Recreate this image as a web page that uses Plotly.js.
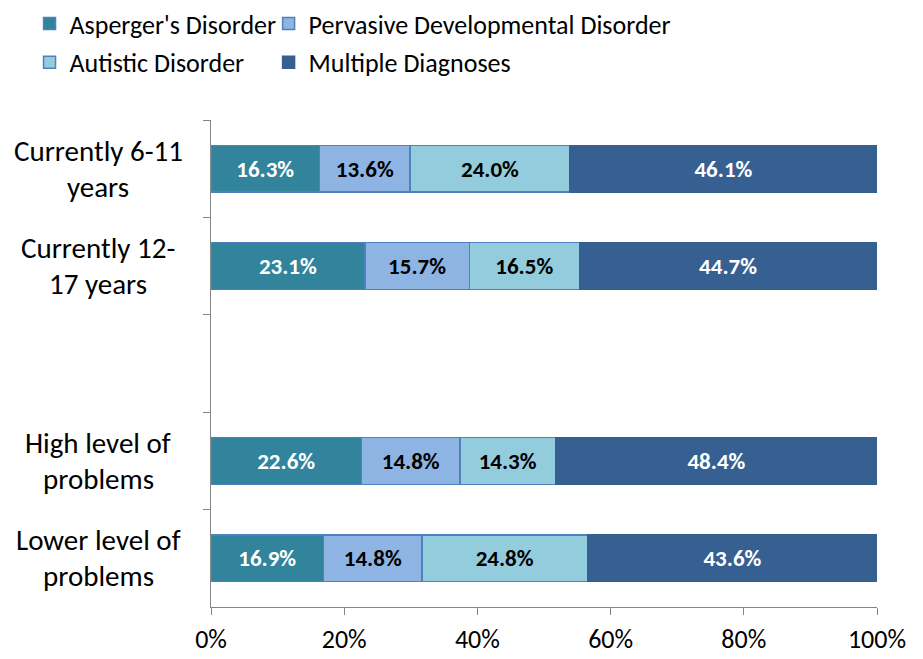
<!DOCTYPE html>
<html>
<head>
<meta charset="utf-8">
<script src="https://cdn.plot.ly/plotly-3.0.1.min.js"></script>
<style>html,body{margin:0;padding:0;background:#fff;}#chart{width:923px;height:659px;}</style>
</head>
<body>
<div id="chart"></div>
<script>
// Data
const categories = ["Currently 6-11<br>years", "Currently 12-<br>17 years", " ", "High level of<br>problems", "Lower level of<br>problems"];
const seriesNames = ["Asperger's Disorder", "Pervasive Developmental Disorder", "Autistic Disorder", "Multiple Diagnoses"];
const asperger = [16.3, 23.1, null, 22.6, 16.9];
const pervasive = [13.6, 15.7, null, 14.8, 14.8];
const autistic = [24.0, 16.5, null, 14.3, 24.8];
const multiple = [46.1, 44.7, null, 48.4, 43.6];
const xTicks = [0, 20, 40, 60, 80, 100];
const xTickLabels = ["0%", "20%", "40%", "60%", "80%", "100%"];

const FONT = "Carlito, Calibri, Lato, 'Liberation Sans', sans-serif";
const seriesValues = [asperger, pervasive, autistic, multiple];
const colors = ["#31849B", "#8EB4E3", "#93CDDD", "#376092"];
const lineColors = ["#4F81BD", "#4F81BD", "#4F81BD", "#376092"];
const textColors = ["#FFFFFF", "#000000", "#000000", "#FFFFFF"];
const legendIds = ["legend", "legend2", "legend", "legend2"];

const traces = seriesValues.map((vals, i) => ({
  type: "bar",
  orientation: "h",
  name: seriesNames[i],
  y: categories,
  x: vals,
  marker: {color: colors[i], line: {color: lineColors[i], width: 1.5}},
  texttemplate: "%{x:.1f}%",
  textposition: "inside",
  insidetextanchor: "middle",
  textangle: 0,
  constraintext: "none",
  textfont: {family: FONT, size: 23, color: textColors[i], weight: "bold"},
  legend: legendIds[i],
  legendgroup: "g" + i,
  hoverinfo: "skip"
}));

// y labels as centered annotations (split lines to match spacing)
const annotations = [];
categories.forEach((c, idx) => {
  const lines = c.split("<br>");
  if (c.trim() === "") return;
  lines.forEach((ln, k) => {
    annotations.push({
      xref: "paper", yref: "y", x: 0, y: idx,
      xshift: -113, yshift: (lines.length - 1) * 18 - k * 36,
      xanchor: "center", yanchor: "middle",
      text: ln, showarrow: false,
      font: {family: FONT, size: 29, color: "#000000"}
    });
  });
});

const layout = {
  width: 923, height: 659,
  margin: {l: 211, r: 46, t: 120, b: 52, autoexpand: false},
  paper_bgcolor: "#FFFFFF", plot_bgcolor: "#FFFFFF",
  barmode: "stack",
  bargap: 0.52,
  font: {family: FONT, size: 22, color: "#000000"},
  xaxis: {
    range: [0, 100], tickmode: "array", tickvals: xTicks, ticktext: xTickLabels,
    showgrid: false, zeroline: false,
    showline: true, linecolor: "#868686", linewidth: 1,
    ticks: "outside", ticklen: 7, tickcolor: "#868686",
    ticklabelstandoff: 2,
    tickfont: {family: FONT, size: 26, color: "#000000"}
  },
  yaxis: {
    type: "category", categoryorder: "array", categoryarray: categories,
    range: [4.5, -0.5],
    showticklabels: false, tickson: "boundaries",
    showgrid: false, zeroline: false,
    showline: true, linecolor: "#868686", linewidth: 1,
    ticks: "outside", ticklen: 7, tickcolor: "#868686"
  },
  legend: {
    x: 0.032, y: 1.008, xref: "container", yref: "container",
    xanchor: "left", yanchor: "top",
    orientation: "v", tracegroupgap: 2, itemwidth: 30,
    font: {family: FONT, size: 26, color: "#000000"},
    bgcolor: "rgba(0,0,0,0)"
  },
  legend2: {
    x: 0.291, y: 1.008, xref: "container", yref: "container",
    xanchor: "left", yanchor: "top",
    orientation: "v", tracegroupgap: 2, itemwidth: 30,
    font: {family: FONT, size: 26, color: "#000000"},
    bgcolor: "rgba(0,0,0,0)"
  },
  annotations: annotations,
  showlegend: true
};

Plotly.newPlot("chart", traces, layout, {displayModeBar: false, staticPlot: true});
</script>
</body>
</html>
